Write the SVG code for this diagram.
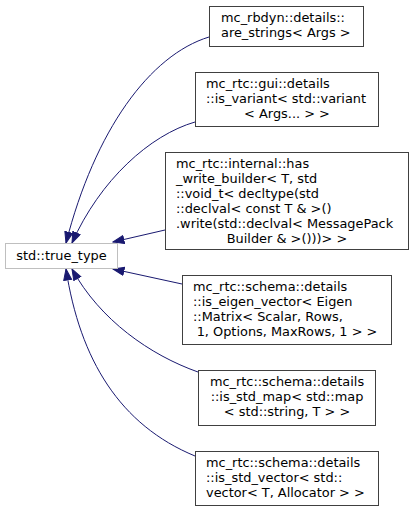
<svg xmlns="http://www.w3.org/2000/svg" width="413" height="511" viewBox="0 0 413 511">
<style>
text{font-family:"DejaVu Sans",sans-serif;font-size:12.9px;fill:#000}
.n{fill:#fff;stroke:#404040;stroke-width:1}
.r{fill:#fff;stroke:#bfbfbf;stroke-width:1}
.e{fill:none;stroke:#191970;stroke-width:1}
.m{text-anchor:middle}
</style>
<defs>
<marker id="ah" markerUnits="userSpaceOnUse" markerWidth="13" markerHeight="10" refX="11.5" refY="4.5" orient="auto">
<path d="M0.5,0.5 L11.5,4.5 L0.5,8.5 z" fill="#191970" stroke="#191970"/>
</marker>
</defs>
<rect width="413" height="511" fill="#fff"/>
<g id="connectors">
<path class="e" marker-end="url(#ah)" d="M209,37 C150,55 95,130 66,243"/>
<path class="e" marker-end="url(#ah)" d="M195,122 C150,135 100,180 72,243"/>
<path class="e" marker-end="url(#ah)" d="M165,230 L113,242"/>
<path class="e" marker-end="url(#ah)" d="M182,284 L113,269"/>
<path class="e" marker-end="url(#ah)" d="M198,372 C150,355 100,320 72,269"/>
<path class="e" marker-end="url(#ah)" d="M195,456 C120,425 80,360 66,269"/>
</g>
<g id="true_type">
<rect class="r" x="5.5" y="243.5" width="112" height="25"/>
<text class="m" x="61.5" y="260">std::true_type</text>
</g>
<g id="are_strings">
<rect class="n" x="209.5" y="6.5" width="154" height="40"/>
<text x="221" y="21.5">mc_rbdyn::details::</text>
<text x="221" y="36.5">are_strings&lt; Args &gt;</text>
</g>
<g id="is_variant">
<rect class="n" x="195.5" y="72.5" width="183" height="54"/>
<text x="206" y="87.5">mc_rtc::gui::details</text>
<text x="206" y="102.5">::is_variant&lt; std::variant</text>
<text class="m" x="287" y="117.5">&lt; Args... &gt; &gt;</text>
</g>
<g id="has_write_builder">
<rect class="n" x="165.5" y="152.5" width="243" height="97"/>
<text x="176" y="167.5">mc_rtc::internal::has</text>
<text x="176" y="182.5">_write_builder&lt; T, std</text>
<text x="176" y="197.5">::void_t&lt; decltype(std</text>
<text x="176" y="212.5">::declval&lt; const T &amp; &gt;()</text>
<text x="176" y="227.5">.write(std::declval&lt; MessagePack</text>
<text class="m" x="287" y="242.5">Builder &amp; &gt;()))&gt; &gt;</text>
</g>
<g id="is_eigen_vector">
<rect class="n" x="182.5" y="275.5" width="209" height="69"/>
<text x="193" y="290.5">mc_rtc::schema::details</text>
<text x="193" y="305.5">::is_eigen_vector&lt; Eigen</text>
<text x="193" y="320.5">::Matrix&lt; Scalar, Rows,</text>
<text class="m" x="287" y="335.5"> 1, Options, MaxRows, 1 &gt; &gt;</text>
</g>
<g id="is_std_map">
<rect class="n" x="198.5" y="370.5" width="177" height="55"/>
<text class="m" x="287" y="385.5">mc_rtc::schema::details</text>
<text class="m" x="287" y="400.5">::is_std_map&lt; std::map</text>
<text class="m" x="287" y="415.5">&lt; std::string, T &gt; &gt;</text>
</g>
<g id="is_std_vector">
<rect class="n" x="195.5" y="451.5" width="183" height="54"/>
<text x="206" y="466.5">mc_rtc::schema::details</text>
<text x="206" y="481.5">::is_std_vector&lt; std::</text>
<text x="206" y="496.5">vector&lt; T, Allocator &gt; &gt;</text>
</g>
</svg>
